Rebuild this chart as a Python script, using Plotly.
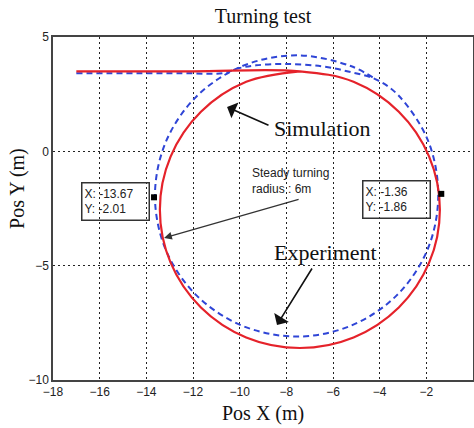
import plotly.graph_objects as go

# Simulation trajectory (m)
red_x = [-17.0, -12.0, -7.42, -5.12, -3.18, -1.88, -1.42, -1.88, -3.18, -5.12, -7.42,
         -9.72, -11.66, -12.96, -13.42, -12.96, -11.66, -9.72, -7.42]
red_y = [3.5, 3.5, 3.5, 3.04, 1.73, -0.23, -2.55, -4.87, -6.83, -8.14, -8.6,
         -8.14, -6.83, -4.87, -2.55, -0.23, 1.73, 3.04, 3.5]

# Experiment trajectory (m)
blue_x = [-17.0, -12.5, -10.7, -10.1, -9.3, -8.0, -6.5, -5.3, -4.17, -3.2, -1.92, -1.49,
          -1.95, -3.27, -5.24, -7.56, -9.88, -11.85, -13.17, -13.63, -13.17, -11.85,
          -9.88, -7.56, -5.24, -4.17]
blue_y = [3.42, 3.42, 3.42, 3.62, 3.76, 3.82, 3.72, 3.48, 3.15, 2.45, 0.45, -1.95,
          -4.30, -6.30, -7.63, -8.10, -7.63, -6.30, -4.30, -1.95, 0.40, 2.40,
          3.73, 4.20, 3.73, 3.15]

# Data tips
tip_x = [-13.67, -1.36]
tip_y = [-2.01, -1.86]
tip_labels = ["X: -13.67<br>Y: -2.01", "X: -1.36<br>Y: -1.86"]

x_ticks = [-18, -16, -14, -12, -10, -8, -6, -4, -2, 0]
y_ticks = [-10, -5, 0, 5]

RED = "#e5222a"
BLUE = "#2f45d6"
SERIF = "Liberation Serif, Times New Roman, serif"
SANS = "Liberation Sans, Arial, sans-serif"

fig = go.Figure()
fig.add_trace(go.Scatter(x=blue_x, y=blue_y, mode="lines", name="Experiment",
                         line=dict(color=BLUE, width=2, dash="6px,4px", shape="spline", smoothing=1.0)))
fig.add_trace(go.Scatter(x=red_x, y=red_y, mode="lines", name="Simulation",
                         line=dict(color=RED, width=2.2, shape="spline", smoothing=1.0)))
fig.add_trace(go.Scatter(x=tip_x, y=tip_y, mode="markers", name="tips",
                         marker=dict(symbol="square", size=6, color="black")))

ann = []
# data tip boxes
ann.append(dict(x=-15.32, y=-2.19, xref="x", yref="y", text=tip_labels[0], showarrow=False,
                align="left", font=dict(family=SANS, size=12, color="#222"),
                bordercolor="#333", borderwidth=1.5, borderpad=2, width=62, height=32))
ann.append(dict(x=-3.28, y=-2.11, xref="x", yref="y", text=tip_labels[1], showarrow=False,
                align="left", font=dict(family=SANS, size=12, color="#222"),
                bordercolor="#333", borderwidth=1.5, borderpad=2, width=62, height=32))
# Simulation label + arrow
ann.append(dict(x=-6.47, y=0.98, xref="x", yref="y", text="Simulation", showarrow=False,
                font=dict(family=SERIF, size=22, color="#111")))
ann.append(dict(x=-10.54, y=1.94, ax=-8.70, ay=1.11, xref="x", yref="y", axref="x", ayref="y",
                text="", showarrow=True, arrowhead=1, arrowsize=1.8, arrowwidth=1.6, arrowcolor="#111"))
# Experiment label + arrow
ann.append(dict(x=-6.34, y=-4.44, xref="x", yref="y", text="Experiment", showarrow=False,
                font=dict(family=SERIF, size=22, color="#111")))
ann.append(dict(x=-8.40, y=-7.59, ax=-6.86, ay=-5.06, xref="x", yref="y", axref="x", ayref="y",
                text="", showarrow=True, arrowhead=1, arrowsize=1.8, arrowwidth=1.6, arrowcolor="#111"))
# Steady turning note + arrow
ann.append(dict(x=-9.56, y=-1.30, xref="x", yref="y", xanchor="left", align="left",
                text="Steady turning<br>radius : 6m", showarrow=False,
                font=dict(family=SANS, size=12, color="#222")))
ann.append(dict(x=-13.24, y=-3.79, ax=-7.41, ay=-2.08, xref="x", yref="y", axref="x", ayref="y",
                text="", showarrow=True, arrowhead=2, arrowsize=1.3, arrowwidth=1.2, arrowcolor="#333"))
# Axis titles
ann.append(dict(x=0.5, y=-0.099, xref="paper", yref="paper", yanchor="middle", text="Pos X (m)",
                showarrow=False, font=dict(family=SERIF, size=20, color="#111")))
ann.append(dict(x=-0.0833, y=0.557, xref="paper", yref="paper", xanchor="center", yanchor="middle",
                text="Pos Y (m)", textangle=-90, showarrow=False,
                font=dict(family=SERIF, size=20, color="#111")))

axis_common = dict(showgrid=True, gridcolor="#222", gridwidth=1.3, griddash="2px,3px",
                   zeroline=False, showline=True, linecolor="#444", linewidth=1.5, mirror=True,
                   ticks="", automargin=False,
                   tickfont=dict(family=SANS, size=12, color="#222"))

fig.update_layout(
    width=474, height=428,
    margin=dict(l=53, r=1, t=37, b=48),
    paper_bgcolor="white", plot_bgcolor="white",
    showlegend=False,
    title=dict(text="Turning test", x=0.5, xref="paper", xanchor="center",
               y=1 - 16 / 428, yanchor="middle", font=dict(family=SERIF, size=20, color="#111")),
    xaxis=dict(range=[-18, 0], tickvals=x_ticks, **axis_common),
    yaxis=dict(range=[-10, 5], tickvals=y_ticks, **axis_common),
    annotations=ann,
)

fig.write_html("out.html", config={"displayModeBar": False},
               post_script="document.body.style.margin='0px';document.body.style.overflow='hidden';")
